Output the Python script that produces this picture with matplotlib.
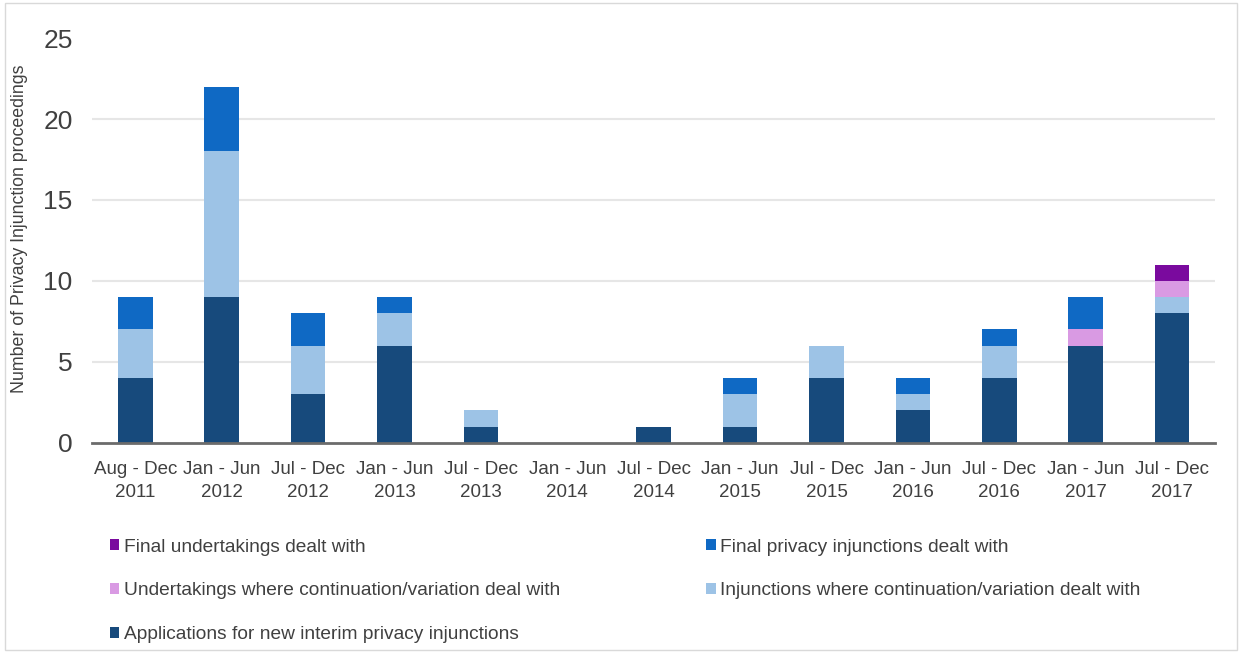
import matplotlib
matplotlib.use("Agg")
import matplotlib.pyplot as plt
import numpy as np
from matplotlib.patches import Patch, Rectangle

plt.rcParams['font.family'] = ['Liberation Sans', 'DejaVu Sans']

categories = ["Aug - Dec\n2011", "Jan - Jun\n2012", "Jul - Dec\n2012", "Jan - Jun\n2013",
              "Jul - Dec\n2013", "Jan - Jun\n2014", "Jul - Dec\n2014", "Jan - Jun\n2015",
              "Jul - Dec\n2015", "Jan - Jun\n2016", "Jul - Dec\n2016", "Jan - Jun\n2017",
              "Jul - Dec\n2017"]
applications = [4, 9, 3, 6, 1, 0, 1, 1, 4, 2, 4, 6, 8]
injunctions_cont = [3, 9, 3, 2, 1, 0, 0, 2, 2, 1, 2, 0, 1]
undertakings_cont = [0, 0, 0, 0, 0, 0, 0, 0, 0, 0, 0, 1, 1]
final_injunctions = [2, 4, 2, 1, 0, 0, 0, 1, 0, 1, 1, 2, 0]
final_undertakings = [0, 0, 0, 0, 0, 0, 0, 0, 0, 0, 0, 0, 1]

series = [
    ("Applications for new interim privacy injunctions", applications, "#174a7c"),
    ("Injunctions where continuation/variation dealt with", injunctions_cont, "#9dc3e6"),
    ("Undertakings where continuation/variation deal with", undertakings_cont, "#d99ae3"),
    ("Final privacy injunctions dealt with", final_injunctions, "#0f69c4"),
    ("Final undertakings dealt with", final_undertakings, "#7a0a9e"),
]

fig = plt.figure(figsize=(12.44, 6.57), dpi=100)
ax = fig.add_axes([0.074, 0.326, 0.903, 0.616])

x = np.arange(len(categories))
bottom = np.zeros(len(categories))
handles = {}
for name, vals, col in series:
    v = np.array(vals, dtype=float)
    ax.bar(x, v, bottom=bottom, width=0.4, color=col, edgecolor='none', zorder=3)
    handles[name] = Patch(facecolor=col, label=name)
    bottom += v

ax.set_xlim(-0.5, len(categories) - 0.5)
ax.set_ylim(0, 25)
ax.set_yticks([0, 5, 10, 15, 20, 25])
for yv in [5, 10, 15, 20]:
    ax.axhline(yv, color='#e6e6e6', lw=1.5, zorder=1)
ax.set_xticks(x)
ax.set_xticklabels(categories, fontsize=13.5, color='#404040', linespacing=1.45)
ax.tick_params(axis='y', labelsize=19, colors='#404040', length=0, pad=14)
ax.tick_params(axis='x', length=0, pad=13)
for s in ['top', 'right', 'left']:
    ax.spines[s].set_visible(False)
ax.spines['bottom'].set_color('#6b6b6b')
ax.spines['bottom'].set_linewidth(2)
ax.spines['bottom'].set_zorder(4)
ax.set_ylabel("Number of Privacy Injunction proceedings", fontsize=12.8, color='#404040')
ax.yaxis.set_label_coords(-0.057, 0.53)

order = ["Final undertakings dealt with",
         "Undertakings where continuation/variation deal with",
         "Applications for new interim privacy injunctions",
         "Final privacy injunctions dealt with",
         "Injunctions where continuation/variation dealt with"]
leg = fig.legend(handles=[handles[n] for n in order], loc='upper left',
                 bbox_to_anchor=(0.082, 0.192), ncol=2, frameon=False,
                 fontsize=13.8, handlelength=0.5, handleheight=0.5, handletextpad=0.25,
                 columnspacing=7.6, labelspacing=1.4, borderaxespad=0)
for t in leg.get_texts():
    t.set_color('#404040')

fig.patches.append(Rectangle((0.004, 0.01), 0.99, 0.985, transform=fig.transFigure,
                             fill=False, edgecolor='#d9d9d9', lw=1))

fig.savefig("out.png", dpi=100)
